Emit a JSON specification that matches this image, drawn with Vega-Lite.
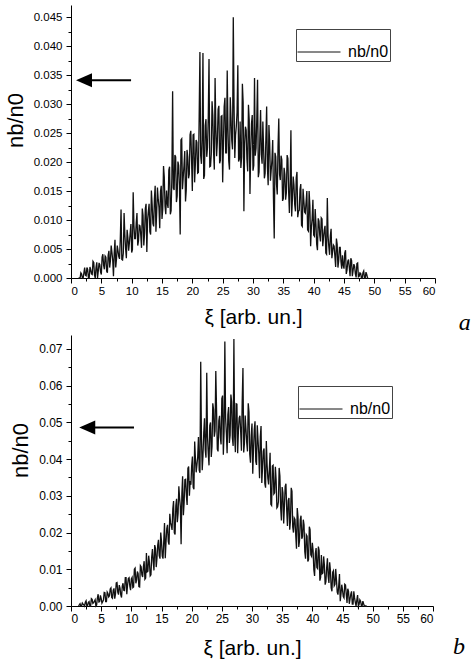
{
  "$schema": "https://vega.github.io/schema/vega-lite/v6.json",
  "autosize": {"type": "pad"},
  "padding": {"left": 4, "top": 5, "right": 0, "bottom": 0},
  "background": "white",
  "spacing": 57,
  "bounds": "flush",
  "config": {
    "view": {"stroke": null},
    "axis": {"grid": false, "domainColor": "black", "domainWidth": 1, "tickColor": "black", "tickWidth": 1, "labelColor": "black", "labelFont": "Liberation Sans", "titleFont": "Liberation Sans", "titleFontWeight": "normal", "titleColor": "black", "labelOverlap": false},
    "legend": {"labelFont": "Liberation Sans", "labelColor": "black"}
  },
  "resolve": {"legend": {"color": "independent"}, "scale": {"x": "independent", "y": "independent", "color": "independent"}},
  "datasets": {
    "d": [
      {"x":1.25,"a":0,"b":0},{"x":1.5,"a":0,"b":0.0006},{"x":1.75,"a":0.0007,"b":0},
      {"x":2.0,"a":0,"b":0.0005},{"x":2.25,"a":0.0018,"b":0},{"x":2.5,"a":0.0004,"b":0.0014},{"x":2.75,"a":0.0015,"b":0.0001},
      {"x":3.0,"a":0,"b":0.0012},{"x":3.25,"a":0.0014,"b":0},{"x":3.5,"a":0.0006,"b":0.0018},{"x":3.75,"a":0.0027,"b":0.0009},
      {"x":4.0,"a":0,"b":0.0017},{"x":4.25,"a":0.0027,"b":0.0003},{"x":4.5,"a":0.0012,"b":0.0032},{"x":4.75,"a":0.0023,"b":0.0012},
      {"x":5.0,"a":0.0006,"b":0.0021},{"x":5.25,"a":0.0041,"b":0.0012},{"x":5.5,"a":0.0015,"b":0.0037},{"x":5.75,"a":0.0036,"b":0.0012},
      {"x":6.0,"a":0.0009,"b":0.0038},{"x":6.25,"a":0.0047,"b":0.0025},{"x":6.5,"a":0.003,"b":0.0046},{"x":6.75,"a":0.0044,"b":0.0023},
      {"x":7.0,"a":0.0003,"b":0.0043},{"x":7.25,"a":0.0066,"b":0.002},{"x":7.5,"a":0.0033,"b":0.0063},{"x":7.75,"a":0.0047,"b":0.0038},
      {"x":8.0,"a":0.0033,"b":0.0057},{"x":8.25,"a":0.0118,"b":0.003},{"x":8.5,"a":0.0031,"b":0.0054},{"x":8.75,"a":0.0112,"b":0.0043},
      {"x":9.0,"a":0.0051,"b":0.0077},{"x":9.25,"a":0.0083,"b":0.0032},{"x":9.5,"a":0.0047,"b":0.0075},{"x":9.75,"a":0.0077,"b":0.0054},
      {"x":10.0,"a":0.0044,"b":0.0074},{"x":10.25,"a":0.0148,"b":0.005},{"x":10.5,"a":0.0068,"b":0.01},{"x":10.75,"a":0.0095,"b":0.0062},
      {"x":11.0,"a":0.0056,"b":0.0094},{"x":11.25,"a":0.0091,"b":0.0053},{"x":11.5,"a":0.0074,"b":0.011},{"x":11.75,"a":0.012,"b":0.0085},
      {"x":12.0,"a":0.0056,"b":0.0107},{"x":12.25,"a":0.012,"b":0.0073},{"x":12.5,"a":0.0045,"b":0.0144},{"x":12.75,"a":0.0115,"b":0.0095},
      {"x":13.0,"a":0.008,"b":0.0118},{"x":13.25,"a":0.0151,"b":0.0085},{"x":13.5,"a":0.0094,"b":0.0155},{"x":13.75,"a":0.0137,"b":0.0097},
      {"x":14.0,"a":0.008,"b":0.0157},{"x":14.25,"a":0.0156,"b":0.013},{"x":14.5,"a":0.0122,"b":0.018},{"x":14.75,"a":0.0149,"b":0.0129},
      {"x":15.0,"a":0.0102,"b":0.0176},{"x":15.25,"a":0.0193,"b":0.0129},{"x":15.5,"a":0.0124,"b":0.0226},{"x":15.75,"a":0.0151,"b":0.0174},
      {"x":16.0,"a":0.0121,"b":0.0221},{"x":16.25,"a":0.0192,"b":0.0167},{"x":16.5,"a":0.0116,"b":0.0227},{"x":16.75,"a":0.0322,"b":0.0207},
      {"x":17.0,"a":0.0152,"b":0.0286},{"x":17.25,"a":0.0209,"b":0.0195},{"x":17.5,"a":0.0141,"b":0.0292},{"x":17.75,"a":0.0194,"b":0.0252},
      {"x":18.0,"a":0.0075,"b":0.0294},{"x":18.25,"a":0.024,"b":0.0168},{"x":18.5,"a":0.0174,"b":0.0353},{"x":18.75,"a":0.0219,"b":0.0281},
      {"x":19.0,"a":0.0152,"b":0.0345},{"x":19.25,"a":0.0209,"b":0.0275},{"x":19.5,"a":0.0179,"b":0.038},{"x":19.75,"a":0.0254,"b":0.034},
      {"x":20.0,"a":0.015,"b":0.0381},{"x":20.25,"a":0.0248,"b":0.0323},{"x":20.5,"a":0.0196,"b":0.0448},{"x":20.75,"a":0.0234,"b":0.0364},
      {"x":21.0,"a":0.0182,"b":0.0406},{"x":21.25,"a":0.039,"b":0.037},{"x":21.5,"a":0.0197,"b":0.0665},{"x":21.75,"a":0.0388,"b":0.037},
      {"x":22.0,"a":0.0177,"b":0.0471},{"x":22.25,"a":0.0274,"b":0.0425},{"x":22.5,"a":0.0225,"b":0.0635},{"x":22.75,"a":0.0378,"b":0.0416},
      {"x":23.0,"a":0.0193,"b":0.0491},{"x":23.25,"a":0.0305,"b":0.0406},{"x":23.5,"a":0.0217,"b":0.0552},{"x":23.75,"a":0.0345,"b":0.0461},
      {"x":24.0,"a":0.021,"b":0.064},{"x":24.25,"a":0.0291,"b":0.0427},{"x":24.5,"a":0.0198,"b":0.0504},{"x":24.75,"a":0.0279,"b":0.0459},
      {"x":25.0,"a":0.0165,"b":0.0565},{"x":25.25,"a":0.0296,"b":0.0412},{"x":25.5,"a":0.0216,"b":0.072},{"x":25.75,"a":0.0358,"b":0.0471},
      {"x":26.0,"a":0.0202,"b":0.0521},{"x":26.25,"a":0.0312,"b":0.0444},{"x":26.5,"a":0.0237,"b":0.0576},{"x":26.75,"a":0.045,"b":0.0457},
      {"x":27.0,"a":0.0207,"b":0.0727},{"x":27.25,"a":0.0262,"b":0.0419},{"x":27.5,"a":0.0367,"b":0.055},{"x":27.75,"a":0.0205,"b":0.0478},
      {"x":28.0,"a":0.019,"b":0.0518},{"x":28.25,"a":0.0335,"b":0.0423},{"x":28.5,"a":0.0115,"b":0.0648},{"x":28.75,"a":0.0261,"b":0.0444},
      {"x":29.0,"a":0.0205,"b":0.0482},{"x":29.25,"a":0.0299,"b":0.0421},{"x":29.5,"a":0.0145,"b":0.0528},{"x":29.75,"a":0.0266,"b":0.039},
      {"x":30.0,"a":0.0185,"b":0.0497},{"x":30.25,"a":0.0345,"b":0.0427},{"x":30.5,"a":0.0224,"b":0.0503},{"x":30.75,"a":0.0342,"b":0.0384},
      {"x":31.0,"a":0.0183,"b":0.0452},{"x":31.25,"a":0.029,"b":0.0348},{"x":31.5,"a":0.0197,"b":0.049},{"x":31.75,"a":0.0223,"b":0.0379},
      {"x":32.0,"a":0.0181,"b":0.0429},{"x":32.25,"a":0.0296,"b":0.0322},{"x":32.5,"a":0.016,"b":0.0386},{"x":32.75,"a":0.0233,"b":0.0331},
      {"x":33.0,"a":0.0186,"b":0.0417},{"x":33.25,"a":0.0238,"b":0.0274},{"x":33.5,"a":0.0068,"b":0.0383},{"x":33.75,"a":0.0209,"b":0.0308},
      {"x":34.0,"a":0.0144,"b":0.0343},{"x":34.25,"a":0.0275,"b":0.027},{"x":34.5,"a":0.0169,"b":0.0376},{"x":34.75,"a":0.0204,"b":0.0267},
      {"x":35.0,"a":0.0137,"b":0.0324},{"x":35.25,"a":0.0179,"b":0.0225},{"x":35.5,"a":0.0147,"b":0.0326},{"x":35.75,"a":0.0206,"b":0.0262},
      {"x":36.0,"a":0.0112,"b":0.0287},{"x":36.25,"a":0.0255,"b":0.0208},{"x":36.5,"a":0.0137,"b":0.0322},{"x":36.75,"a":0.0161,"b":0.0215},
      {"x":37.0,"a":0.0115,"b":0.024},{"x":37.25,"a":0.0183,"b":0.0192},{"x":37.5,"a":0.0115,"b":0.0267},{"x":37.75,"a":0.0153,"b":0.0161},
      {"x":38.0,"a":0.0091,"b":0.0235},{"x":38.25,"a":0.0154,"b":0.0183},{"x":38.5,"a":0.0114,"b":0.0235},{"x":38.75,"a":0.0131,"b":0.0148},
      {"x":39.0,"a":0.0083,"b":0.0194},{"x":39.25,"a":0.015,"b":0.0121},{"x":39.5,"a":0.0055,"b":0.0216},{"x":39.75,"a":0.0102,"b":0.0139},
      {"x":40.0,"a":0.0074,"b":0.0172},{"x":40.25,"a":0.0119,"b":0.0099},{"x":40.5,"a":0.0058,"b":0.0143},{"x":40.75,"a":0.0103,"b":0.0105},
      {"x":41.0,"a":0.0074,"b":0.0162},{"x":41.25,"a":0.0104,"b":0.0069},{"x":41.5,"a":0.0055,"b":0.0139},{"x":41.75,"a":0.0083,"b":0.009},
      {"x":42.0,"a":0.0043,"b":0.0111},{"x":42.25,"a":0.0138,"b":0.0066},{"x":42.5,"a":0.0054,"b":0.013},{"x":42.75,"a":0.0073,"b":0.0063},
      {"x":43.0,"a":0.0034,"b":0.0096},{"x":43.25,"a":0.0057,"b":0.004},{"x":43.5,"a":0.0037,"b":0.0096},{"x":43.75,"a":0.0068,"b":0.0059},
      {"x":44.0,"a":0.0018,"b":0.0071},{"x":44.25,"a":0.0053,"b":0.0031},{"x":44.5,"a":0.0028,"b":0.0087},{"x":44.75,"a":0.0039,"b":0.0033},
      {"x":45.0,"a":0.0016,"b":0.0044},{"x":45.25,"a":0.0048,"b":0.0022},{"x":45.5,"a":0.0014,"b":0.0057},{"x":45.75,"a":0.0032,"b":0.0008},
      {"x":46.0,"a":0.0003,"b":0.004},{"x":46.25,"a":0.003,"b":0.0019},{"x":46.5,"a":0.0013,"b":0.004},{"x":46.75,"a":0.002,"b":0.0005},
      {"x":47.0,"a":0.0001,"b":0.0022},{"x":47.25,"a":0.0026,"b":0},{"x":47.5,"a":0.0003,"b":0.003},{"x":47.75,"a":0.0008,"b":0.0004},
      {"x":48.0,"a":0,"b":0.0013},{"x":48.25,"a":0.0012,"b":0},{"x":48.5,"a":0,"b":0.0006},{"x":48.75,"a":0.0006,"b":0},
      {"x":49.0,"a":0,"b":0},
      {"x":1.375,"a":0,"b":0.0003},{"x":1.625,"a":0.0009,"b":0},{"x":1.875,"a":0,"b":0.0008},
      {"x":2.125,"a":0.0009,"b":0.0003},{"x":2.375,"a":0.0005,"b":0.001},{"x":2.625,"a":0.0018,"b":0},{"x":2.875,"a":0,"b":0.001},
      {"x":3.125,"a":0.0019,"b":0},{"x":3.375,"a":0.0007,"b":0.002},{"x":3.625,"a":0.0029,"b":0.0007},{"x":3.875,"a":0.0005,"b":0.0013},
      {"x":4.125,"a":0.0018,"b":0},{"x":4.375,"a":0,"b":0.0022},{"x":4.625,"a":0.0026,"b":0.0011},{"x":4.875,"a":0.001,"b":0.0029},
      {"x":5.125,"a":0.0036,"b":0.0008},{"x":5.375,"a":0.0022,"b":0.0016},{"x":5.625,"a":0.0038,"b":0.0036},{"x":5.875,"a":0.0012,"b":0.0012},
      {"x":6.125,"a":0.0039,"b":0.0034},{"x":6.375,"a":0.0018,"b":0.0028},{"x":6.625,"a":0.0056,"b":0.0049},{"x":6.875,"a":0.0031,"b":0.0021},
      {"x":7.125,"a":0.0043,"b":0.0048},{"x":7.375,"a":0.0018,"b":0.0033},{"x":7.625,"a":0.0056,"b":0.0064},{"x":7.875,"a":0.0037,"b":0.0031},
      {"x":8.125,"a":0.0067,"b":0.0049},{"x":8.375,"a":0.0032,"b":0.0023},{"x":8.625,"a":0.0043,"b":0.0062},{"x":8.875,"a":0.0075,"b":0.0042},
      {"x":9.125,"a":0.0034,"b":0.0077},{"x":9.375,"a":0.007,"b":0.0057},{"x":9.625,"a":0.0061,"b":0.0077},{"x":9.875,"a":0.0093,"b":0.0043},
      {"x":10.125,"a":0.0049,"b":0.0078},{"x":10.375,"a":0.0091,"b":0.0052},{"x":10.625,"a":0.0068,"b":0.0103},{"x":10.875,"a":0.0112,"b":0.0071},
      {"x":11.125,"a":0.0064,"b":0.0088},{"x":11.375,"a":0.009,"b":0.0052},{"x":11.625,"a":0.0052,"b":0.0107},{"x":11.875,"a":0.0108,"b":0.0079},
      {"x":12.125,"a":0.0077,"b":0.0122},{"x":12.375,"a":0.0128,"b":0.0076},{"x":12.625,"a":0.01,"b":0.0093},{"x":12.875,"a":0.0128,"b":0.0137},
      {"x":13.125,"a":0.0075,"b":0.0082},{"x":13.375,"a":0.0127,"b":0.0133},{"x":13.625,"a":0.0089,"b":0.0121},{"x":13.875,"a":0.0159,"b":0.0166},
      {"x":14.125,"a":0.0113,"b":0.0106},{"x":14.375,"a":0.0136,"b":0.0166},{"x":14.625,"a":0.0086,"b":0.0137},{"x":14.875,"a":0.0159,"b":0.02},
      {"x":15.125,"a":0.0119,"b":0.0136},{"x":15.375,"a":0.0174,"b":0.0177},{"x":15.625,"a":0.011,"b":0.013},{"x":15.875,"a":0.0129,"b":0.0211},
      {"x":16.125,"a":0.0186,"b":0.0175},{"x":16.375,"a":0.011,"b":0.0251},{"x":16.625,"a":0.0172,"b":0.0219},{"x":16.875,"a":0.0155,"b":0.0264},
      {"x":17.125,"a":0.0212,"b":0.0199},{"x":17.375,"a":0.0131,"b":0.0273},{"x":17.625,"a":0.0201,"b":0.0228},{"x":17.875,"a":0.016,"b":0.0326},
      {"x":18.125,"a":0.0238,"b":0.0271},{"x":18.375,"a":0.0153,"b":0.0305},{"x":18.625,"a":0.0194,"b":0.0247},{"x":18.875,"a":0.0132,"b":0.0344},
      {"x":19.125,"a":0.0221,"b":0.03},{"x":19.375,"a":0.0172,"b":0.0375},{"x":19.625,"a":0.0247,"b":0.03},{"x":19.875,"a":0.0203,"b":0.033},
      {"x":20.125,"a":0.0247,"b":0.0407},{"x":20.375,"a":0.0165,"b":0.0318},{"x":20.625,"a":0.0238,"b":0.0401},{"x":20.875,"a":0.0181,"b":0.0385},
      {"x":21.125,"a":0.0278,"b":0.046},{"x":21.375,"a":0.0211,"b":0.0363},{"x":21.625,"a":0.0239,"b":0.0456},{"x":21.875,"a":0.0171,"b":0.0409},
      {"x":22.125,"a":0.0263,"b":0.0511},{"x":22.375,"a":0.0209,"b":0.0404},{"x":22.625,"a":0.0276,"b":0.046},{"x":22.875,"a":0.0192,"b":0.0383},
      {"x":23.125,"a":0.0214,"b":0.05},{"x":23.375,"a":0.0281,"b":0.0435},{"x":23.625,"a":0.0187,"b":0.0536},{"x":23.875,"a":0.0259,"b":0.0477},
      {"x":24.125,"a":0.0235,"b":0.0534},{"x":24.375,"a":0.0297,"b":0.0421},{"x":24.625,"a":0.0203,"b":0.0518},{"x":24.875,"a":0.028,"b":0.044},
      {"x":25.125,"a":0.0231,"b":0.0573},{"x":25.375,"a":0.0311,"b":0.0476},{"x":25.625,"a":0.0216,"b":0.0512},{"x":25.875,"a":0.0256,"b":0.0416},
      {"x":26.125,"a":0.0187,"b":0.0542},{"x":26.375,"a":0.0277,"b":0.0465},{"x":26.625,"a":0.0222,"b":0.0556},{"x":26.875,"a":0.0297,"b":0.0436},
      {"x":27.125,"a":0.0247,"b":0.0462},{"x":27.375,"a":0.0286,"b":0.0551},{"x":27.625,"a":0.0201,"b":0.0416},{"x":27.875,"a":0.027,"b":0.0512},
      {"x":28.125,"a":0.0209,"b":0.0474},{"x":28.375,"a":0.0303,"b":0.0555},{"x":28.625,"a":0.0232,"b":0.0418},{"x":28.875,"a":0.0255,"b":0.0519},
      {"x":29.125,"a":0.0184,"b":0.0445},{"x":29.375,"a":0.0273,"b":0.0552},{"x":29.625,"a":0.0217,"b":0.0414},{"x":29.875,"a":0.0281,"b":0.0465},
      {"x":30.125,"a":0.0194,"b":0.036},{"x":30.375,"a":0.0211,"b":0.0479},{"x":30.625,"a":0.0273,"b":0.0394},{"x":30.875,"a":0.0174,"b":0.0492},
      {"x":31.125,"a":0.0241,"b":0.0414},{"x":31.375,"a":0.0213,"b":0.046},{"x":31.625,"a":0.027,"b":0.0335},{"x":31.875,"a":0.0172,"b":0.0422},
      {"x":32.125,"a":0.0242,"b":0.0334},{"x":32.375,"a":0.0191,"b":0.0449},{"x":32.625,"a":0.0264,"b":0.0348},{"x":32.875,"a":0.0168,"b":0.0373},
      {"x":33.125,"a":0.0204,"b":0.0277},{"x":33.375,"a":0.0136,"b":0.0381},{"x":33.625,"a":0.0216,"b":0.0305},{"x":33.875,"a":0.0162,"b":0.0379},
      {"x":34.125,"a":0.0226,"b":0.0267},{"x":34.375,"a":0.0179,"b":0.0284},{"x":34.625,"a":0.0211,"b":0.0354},{"x":34.875,"a":0.0133,"b":0.0233},
      {"x":35.125,"a":0.019,"b":0.0308},{"x":35.375,"a":0.0135,"b":0.0273},{"x":35.625,"a":0.0212,"b":0.0333},{"x":35.875,"a":0.0149,"b":0.0218},
      {"x":36.125,"a":0.0166,"b":0.0294},{"x":36.375,"a":0.0106,"b":0.0232},{"x":36.625,"a":0.0175,"b":0.0312},{"x":36.875,"a":0.0127,"b":0.02},
      {"x":37.125,"a":0.0173,"b":0.0236},{"x":37.375,"a":0.0105,"b":0.0156},{"x":37.625,"a":0.0117,"b":0.0242},{"x":37.875,"a":0.0162,"b":0.0178},
      {"x":38.125,"a":0.0089,"b":0.0246},{"x":38.375,"a":0.0135,"b":0.0189},{"x":38.625,"a":0.0112,"b":0.0221},{"x":38.875,"a":0.015,"b":0.0129},
      {"x":39.125,"a":0.0081,"b":0.019},{"x":39.375,"a":0.0125,"b":0.0126},{"x":39.625,"a":0.0088,"b":0.0208},{"x":39.875,"a":0.0135,"b":0.0135},
      {"x":40.125,"a":0.0072,"b":0.0151},{"x":40.375,"a":0.0093,"b":0.0082},{"x":40.625,"a":0.0048,"b":0.0158},{"x":40.875,"a":0.0098,"b":0.0102},
      {"x":41.125,"a":0.0063,"b":0.0151},{"x":41.375,"a":0.0102,"b":0.0078},{"x":41.625,"a":0.007,"b":0.0088},{"x":41.875,"a":0.009,"b":0.0135},
      {"x":42.125,"a":0.0041,"b":0.0058},{"x":42.375,"a":0.0073,"b":0.0104},{"x":42.625,"a":0.004,"b":0.0081},{"x":42.875,"a":0.0085,"b":0.0119},
      {"x":43.125,"a":0.0046,"b":0.0049},{"x":43.375,"a":0.0055,"b":0.0092},{"x":43.625,"a":0.0019,"b":0.0055},{"x":43.875,"a":0.0058,"b":0.0101},
      {"x":44.125,"a":0.003,"b":0.0038},{"x":44.375,"a":0.0053,"b":0.0056},{"x":44.625,"a":0.0016,"b":0.0013},{"x":44.875,"a":0.0022,"b":0.0058},
      {"x":45.125,"a":0.0043,"b":0.0026},{"x":45.375,"a":0.0007,"b":0.0059},{"x":45.625,"a":0.0029,"b":0.0032},{"x":45.875,"a":0.0018,"b":0.0047},
      {"x":46.125,"a":0.0034,"b":0.0006},{"x":46.375,"a":0.0003,"b":0.0032},{"x":46.625,"a":0.0024,"b":0.0005},{"x":46.875,"a":0.0007,"b":0.004},
      {"x":47.125,"a":0.0025,"b":0.001},{"x":47.375,"a":0.0002,"b":0.0016},{"x":47.625,"a":0.0009,"b":0},{"x":47.875,"a":0,"b":0.0017},
      {"x":48.125,"a":0.0009,"b":0.0001},{"x":48.375,"a":0,"b":0.0013},{"x":48.625,"a":0.001,"b":0},{"x":48.875,"a":0,"b":0}
    ]
  },
  "vconcat": [
    {
      "width": 364,
      "height": 273,
      "encoding": {
        "x": {"field": "x", "type": "quantitative", "scale": {"domain": [0, 60], "nice": false},
          "axis": {"title": "ξ [arb. un.]", "titleFontSize": 21, "titlePadding": 10, "labelFontSize": 11.5, "labelPadding": 2, "labelOverlap": false,
            "values": [0,2.5,5,7.5,10,12.5,15,17.5,20,22.5,25,27.5,30,32.5,35,37.5,40,42.5,45,47.5,50,52.5,55,57.5,60],
            "labelExpr": "datum.value % 5 === 0 ? datum.label : ''",
            "tickSize": {"condition": {"test": "datum.value % 5 === 0", "value": 5}, "value": 3}}},
        "y": {"field": "a", "type": "quantitative", "scale": {"domain": [0, 0.0471], "nice": false},
          "axis": {"title": "nb/n0", "titleFontSize": 22, "titlePadding": 6, "titleY": 115, "labelFontSize": 11.5, "labelPadding": 4, "format": ".3f", "labelOverlap": false,
            "values": [0,0.0025,0.005,0.0075,0.01,0.0125,0.015,0.0175,0.02,0.0225,0.025,0.0275,0.03,0.0325,0.035,0.0375,0.04,0.0425,0.045],
            "labelExpr": "round(datum.value*10000) % 50 === 0 ? datum.label : ''",
            "tickSize": {"condition": {"test": "round(datum.value*10000) % 50 === 0", "value": 5}, "value": 3}}}
      },
      "layer": [
        {
          "data": {"name": "d"},
          "mark": {"type": "line", "strokeWidth": 1.3},
          "encoding": {
            "color": {"datum": "nb/n0", "scale": {"range": ["#111111"]},
              "legend": {"title": null, "orient": "none", "legendX": 225, "legendY": 24, "symbolType": "stroke", "symbolSize": 1849, "symbolStrokeWidth": 1, "labelFontSize": 16, "labelOffset": 7, "padding": 1, "strokeColor": "#444"}}
          }
        },
        {
          "data": {"values": [{"x": 2.14, "x2": 9.9, "a": 0.0341}]},
          "mark": {"type": "rule", "strokeWidth": 2, "color": "black"},
          "encoding": {"x2": {"field": "x2"}}
        },
        {
          "data": {"values": [{"x": 2.14, "a": 0.0341}]},
          "mark": {"type": "point", "shape": "M1,-0.875L-1,0L1,0.875Z", "filled": true, "size": 256, "color": "black", "opacity": 1}
        },
        {
          "data": {"values": [{"x": 64.9, "a": -0.009, "t": "a"}]},
          "mark": {"type": "text", "font": "Liberation Serif", "fontStyle": "italic", "fontSize": 24, "align": "center", "baseline": "alphabetic", "color": "black"},
          "encoding": {"text": {"field": "t"}}
        }
      ]
    },
    {
      "width": 362,
      "height": 271,
      "encoding": {
        "x": {"field": "x", "type": "quantitative", "scale": {"domain": [0, 60], "nice": false},
          "axis": {"title": "ξ [arb. un.]", "titleFontSize": 21, "titlePadding": 13, "labelFontSize": 12, "labelPadding": 2, "labelOverlap": false,
            "values": [0,2.5,5,7.5,10,12.5,15,17.5,20,22.5,25,27.5,30,32.5,35,37.5,40,42.5,45,47.5,50,52.5,55,57.5,60],
            "labelExpr": "datum.value % 5 === 0 ? datum.label : ''",
            "tickSize": {"condition": {"test": "datum.value % 5 === 0", "value": 5}, "value": 3}}},
        "y": {"field": "b", "type": "quantitative", "scale": {"domain": [0, 0.0738], "nice": false},
          "axis": {"title": "nb/n0", "titleFontSize": 22, "titlePadding": 6, "titleY": 115, "labelFontSize": 12, "labelPadding": 4, "format": ".2f", "labelOverlap": false,
            "values": [0,0.005,0.01,0.015,0.02,0.025,0.03,0.035,0.04,0.045,0.05,0.055,0.06,0.065,0.07],
            "labelExpr": "round(datum.value*1000) % 10 === 0 ? datum.label : ''",
            "tickSize": {"condition": {"test": "round(datum.value*1000) % 10 === 0", "value": 5}, "value": 3}}}
      },
      "layer": [
        {
          "data": {"name": "d"},
          "mark": {"type": "line", "strokeWidth": 1.3},
          "encoding": {
            "color": {"datum": "nb/n0", "scale": {"range": ["#111111"]},
              "legend": {"title": null, "orient": "none", "legendX": 227, "legendY": 51, "symbolType": "stroke", "symbolSize": 1849, "symbolStrokeWidth": 1, "labelFontSize": 16, "labelOffset": 7, "padding": 1, "strokeColor": "#444"}}
          }
        },
        {
          "data": {"values": [{"x": 2.69, "x2": 10.44, "b": 0.0486}]},
          "mark": {"type": "rule", "strokeWidth": 2, "color": "black"},
          "encoding": {"x2": {"field": "x2"}}
        },
        {
          "data": {"values": [{"x": 2.69, "b": 0.0486}]},
          "mark": {"type": "point", "shape": "M1,-0.875L-1,0L1,0.875Z", "filled": true, "size": 256, "color": "black", "opacity": 1}
        },
        {
          "data": {"values": [{"x": 64.3, "b": -0.0131, "t": "b"}]},
          "mark": {"type": "text", "font": "Liberation Serif", "fontStyle": "italic", "fontSize": 24, "align": "center", "baseline": "alphabetic", "color": "black"},
          "encoding": {"text": {"field": "t"}}
        }
      ]
    }
  ]
}
